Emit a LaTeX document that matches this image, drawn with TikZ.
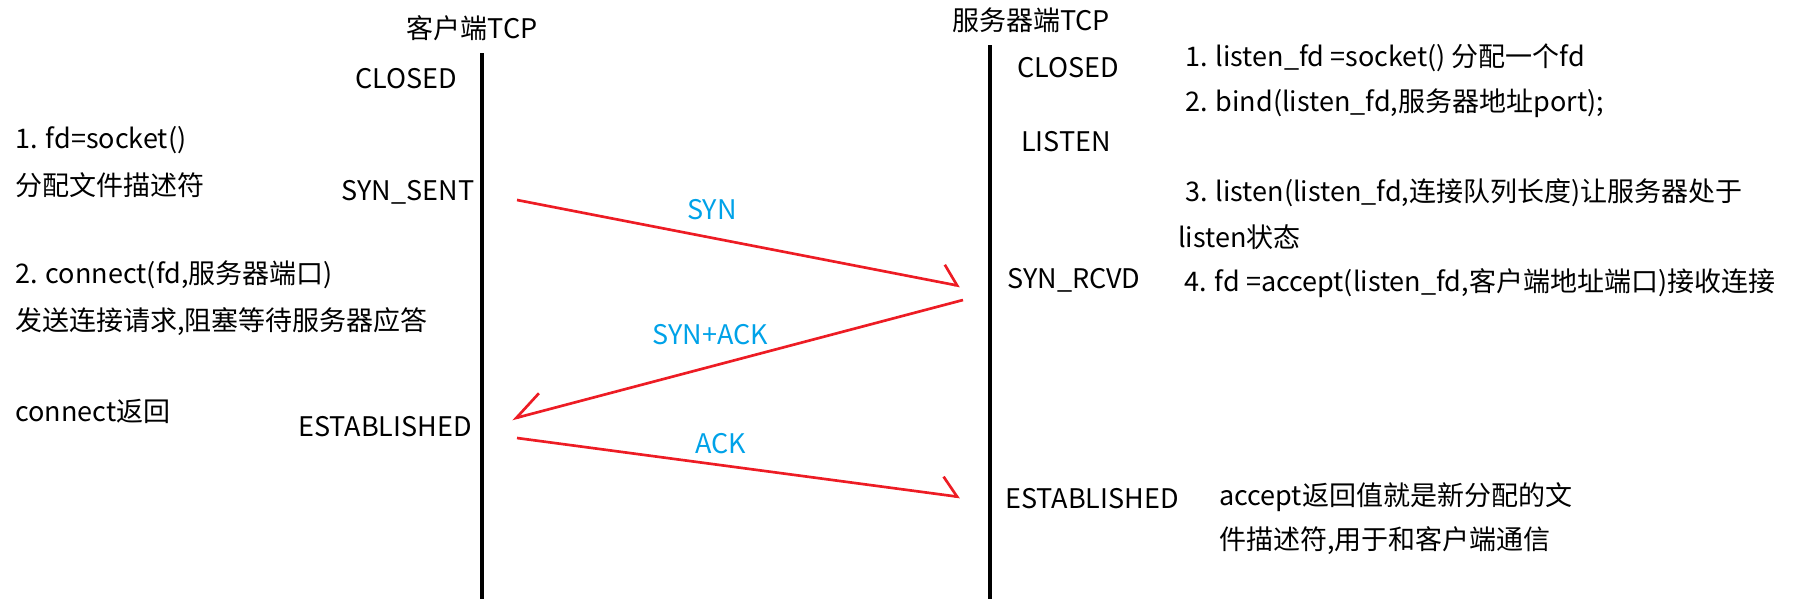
\documentclass[tikz,border=0pt]{standalone}
\usepackage{fontspec}
\setmainfont{Noto Sans CJK SC}
\usetikzlibrary{arrows.meta}
\definecolor{pred}{RGB}{237,28,36}
\definecolor{pblue}{RGB}{0,162,232}

\begin{document}
\begin{tikzpicture}[x=0.025cm, y=-0.025cm,
    txt/.style={inner sep=0pt, font=\fontsize{19.2}{23}\selectfont},
    note/.style={txt, anchor=west},
    life/.style={line width=2.3pt},
    msg/.style={->, draw=pred, line width=1.9pt},
    lbl/.style={txt, text=pblue},
    >={Straight Barb[harpoon, length=0.4cm, width=0.9cm]}]
    \useasboundingbox (0,0) rectangle (1796,599);

    \node[txt] (client) at (472,28) {客户端TCP};
    \node[txt] (server) at (1031,20) {服务器端TCP};

    \coordinate (cTop) at (482,53);
    \coordinate (cBot) at (482,599);
    \coordinate (sTop) at (990,45);
    \coordinate (sBot) at (990,599);
    \draw[life] (cTop) -- (cBot);
    \draw[life] (sTop) -- (sBot);

    \node[txt] (cClosed) at (406,79) {CLOSED};
    \node[txt] (cSent) at (408,192) {SYN\_SENT};
    \node[txt] (cEst) at (385,427) {ESTABLISHED};

    \node[txt] (sClosed) at (1068,68) {CLOSED};
    \node[txt] (sListen) at (1066,142) {LISTEN};
    \node[txt] (sRcvd) at (1074,280) {SYN\_RCVD};
    \node[txt] (sEst) at (1092,499) {ESTABLISHED};

    \node[note] (cSock) at (15,140) {1. fd=socket()};
    \node[note] (cSockB) at (15,185) {分配文件描述符};
    \node[note] (cConn) at (15,275) {2. connect(fd,服务器端口)};
    \node[note] (cConnB) at (15,322) {发送连接请求,阻塞等待服务器应答};
    \node[note] (cRet) at (15,411) {connect返回};

    \node[note] (sSock) at (1185,58) {1. listen\_fd =socket() 分配一个fd};
    \node[note] (sBind) at (1185,103) {2. bind(listen\_fd,服务器地址port);};
    \node[note] (sLsn) at (1185,193) {3. listen(listen\_fd,连接队列长度)让服务器处于};
    \node[note] (sLsnB) at (1178,237) {listen状态};
    \node[note] (sAcc) at (1184,283) {4. fd =accept(listen\_fd,客户端地址端口)接收连接};
    \node[note] (sNew) at (1219,497) {accept返回值就是新分配的文};
    \node[note] (sNewB) at (1219,541) {件描述符,用于和客户端通信};

    \coordinate (synS) at (517,200);
    \coordinate (synE) at (960,286);
    \coordinate (saS) at (963,300);
    \coordinate (saE) at (512,419);
    \coordinate (ackS) at (517,438);
    \coordinate (ackE) at (960,497);

    \draw[msg] (synS) -- (synE)
        node[lbl, pos=0.44, above=0.42cm] (syn) {SYN};
    \draw[msg, >={Straight Barb[harpoon, swap, length=0.7cm, width=0.9cm]}] (saS) -- (saE)
        node[lbl, pos=0.56, above=0.52cm] (synack) {SYN+ACK};
    \draw[msg] (ackS) -- (ackE)
        node[lbl, pos=0.46, above=0.25cm] (ack) {ACK};
\end{tikzpicture}
\end{document}
